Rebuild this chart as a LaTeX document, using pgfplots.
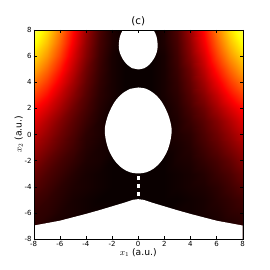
\documentclass[border=0pt]{standalone}
\usepackage{fontspec}
\setmainfont{DejaVu Sans}
\usepackage{pgfplots}
\pgfplotsset{compat=1.18}
\begin{document}
\begin{tikzpicture}[x=1pt,y=1pt]
\path (0,0) rectangle (270,270);
\begin{axis}[
  at={(33.7pt,31pt)},anchor=south west,
  scale only axis,width=209pt,height=209pt,
  xmin=-8,xmax=8,ymin=-8,ymax=8,
  xtick={-8,-6,...,8},ytick={-8,-6,...,8},
  tick align=inside,major tick length=2.8pt,
  tick style={black,line width=0.35pt},
  axis line style={line width=0.35pt},
  axis on top,
  /pgf/number format/assume math mode=true,
  tick label style={font=\fontsize{7}{8}\selectfont},
  xticklabel style={yshift=1.5pt},
  yticklabel style={xshift=1.5pt},
  xlabel={$x_1$ (a.u.)},ylabel={$x_2$ (a.u.)},
  label style={font=\fontsize{9.2}{10}\selectfont},
  xlabel style={yshift=4.5pt},
  ylabel style={yshift=-5pt},
  title={(c)},title style={font=\fontsize{10.3}{11}\selectfont,yshift=-5pt},
  colormap={mhot}{rgb(0pt)=(0.04,0,0); rgb(365pt)=(1,0,0); rgb(746pt)=(1,1,0); rgb(1000pt)=(1,1,1)},
  point meta min=0,point meta max=1,
]
\addplot[surf,shader=interp,mesh/rows=17,mesh/cols=17,point meta=explicit] coordinates {
(-8,8)[.82] (-7,8)[.70] (-6,8)[.55] (-5,8)[.38] (-4,8)[.22] (-3,8)[.10] (-2,8)[.03] (-1,8)[0] (0,8)[0] (1,8)[0] (2,8)[.03] (3,8)[.10] (4,8)[.22] (5,8)[.38] (6,8)[.55] (7,8)[.70] (8,8)[.82]
(-8,7)[.76] (-7,7)[.65] (-6,7)[.51] (-5,7)[.35] (-4,7)[.20] (-3,7)[.09] (-2,7)[.03] (-1,7)[0] (0,7)[0] (1,7)[0] (2,7)[.03] (3,7)[.09] (4,7)[.20] (5,7)[.35] (6,7)[.51] (7,7)[.65] (8,7)[.76]
(-8,6)[.69] (-7,6)[.59] (-6,6)[.46] (-5,6)[.31] (-4,6)[.18] (-3,6)[.08] (-2,6)[.02] (-1,6)[0] (0,6)[0] (1,6)[0] (2,6)[.02] (3,6)[.08] (4,6)[.18] (5,6)[.31] (6,6)[.46] (7,6)[.59] (8,6)[.69]
(-8,5)[.62] (-7,5)[.52] (-6,5)[.40] (-5,5)[.27] (-4,5)[.15] (-3,5)[.07] (-2,5)[.02] (-1,5)[0] (0,5)[0] (1,5)[0] (2,5)[.02] (3,5)[.07] (4,5)[.15] (5,5)[.27] (6,5)[.40] (7,5)[.52] (8,5)[.62]
(-8,4)[.54] (-7,4)[.45] (-6,4)[.34] (-5,4)[.23] (-4,4)[.13] (-3,4)[.06] (-2,4)[.02] (-1,4)[0] (0,4)[0] (1,4)[0] (2,4)[.02] (3,4)[.06] (4,4)[.13] (5,4)[.23] (6,4)[.34] (7,4)[.45] (8,4)[.54]
(-8,3)[.46] (-7,3)[.38] (-6,3)[.28] (-5,3)[.19] (-4,3)[.11] (-3,3)[.05] (-2,3)[.02] (-1,3)[0] (0,3)[0] (1,3)[0] (2,3)[.02] (3,3)[.05] (4,3)[.11] (5,3)[.19] (6,3)[.28] (7,3)[.38] (8,3)[.46]
(-8,2)[.38] (-7,2)[.31] (-6,2)[.23] (-5,2)[.15] (-4,2)[.09] (-3,2)[.04] (-2,2)[.01] (-1,2)[0] (0,2)[0] (1,2)[0] (2,2)[.01] (3,2)[.04] (4,2)[.09] (5,2)[.15] (6,2)[.23] (7,2)[.31] (8,2)[.38]
(-8,1)[.32] (-7,1)[.25] (-6,1)[.18] (-5,1)[.12] (-4,1)[.07] (-3,1)[.03] (-2,1)[.01] (-1,1)[0] (0,1)[0] (1,1)[0] (2,1)[.01] (3,1)[.03] (4,1)[.07] (5,1)[.12] (6,1)[.18] (7,1)[.25] (8,1)[.32]
(-8,0)[.27] (-7,0)[.21] (-6,0)[.15] (-5,0)[.10] (-4,0)[.05] (-3,0)[.03] (-2,0)[.01] (-1,0)[0] (0,0)[0] (1,0)[0] (2,0)[.01] (3,0)[.03] (4,0)[.05] (5,0)[.10] (6,0)[.15] (7,0)[.21] (8,0)[.27]
(-8,-1)[.22] (-7,-1)[.17] (-6,-1)[.12] (-5,-1)[.08] (-4,-1)[.04] (-3,-1)[.02] (-2,-1)[.01] (-1,-1)[0] (0,-1)[0] (1,-1)[0] (2,-1)[.01] (3,-1)[.02] (4,-1)[.04] (5,-1)[.08] (6,-1)[.12] (7,-1)[.17] (8,-1)[.22]
(-8,-2)[.18] (-7,-2)[.13] (-6,-2)[.09] (-5,-2)[.06] (-4,-2)[.03] (-3,-2)[.02] (-2,-2)[0] (-1,-2)[0] (0,-2)[0] (1,-2)[0] (2,-2)[0] (3,-2)[.02] (4,-2)[.03] (5,-2)[.06] (6,-2)[.09] (7,-2)[.13] (8,-2)[.18]
(-8,-3)[.14] (-7,-3)[.10] (-6,-3)[.07] (-5,-3)[.04] (-4,-3)[.02] (-3,-3)[.01] (-2,-3)[0] (-1,-3)[0] (0,-3)[0] (1,-3)[0] (2,-3)[0] (3,-3)[.01] (4,-3)[.02] (5,-3)[.04] (6,-3)[.07] (7,-3)[.10] (8,-3)[.14]
(-8,-4)[.11] (-7,-4)[.08] (-6,-4)[.05] (-5,-4)[.03] (-4,-4)[.02] (-3,-4)[.01] (-2,-4)[0] (-1,-4)[0] (0,-4)[0] (1,-4)[0] (2,-4)[0] (3,-4)[.01] (4,-4)[.02] (5,-4)[.03] (6,-4)[.05] (7,-4)[.08] (8,-4)[.11]
(-8,-5)[.08] (-7,-5)[.06] (-6,-5)[.04] (-5,-5)[.02] (-4,-5)[.01] (-3,-5)[0] (-2,-5)[0] (-1,-5)[0] (0,-5)[0] (1,-5)[0] (2,-5)[0] (3,-5)[0] (4,-5)[.01] (5,-5)[.02] (6,-5)[.04] (7,-5)[.06] (8,-5)[.08]
(-8,-6)[.06] (-7,-6)[.05] (-6,-6)[.03] (-5,-6)[.02] (-4,-6)[.01] (-3,-6)[.01] (-2,-6)[0] (-1,-6)[0] (0,-6)[0] (1,-6)[0] (2,-6)[0] (3,-6)[.01] (4,-6)[.01] (5,-6)[.02] (6,-6)[.03] (7,-6)[.05] (8,-6)[.06]
(-8,-7)[.05] (-7,-7)[.03] (-6,-7)[.02] (-5,-7)[.01] (-4,-7)[0] (-3,-7)[0] (-2,-7)[0] (-1,-7)[0] (0,-7)[0] (1,-7)[0] (2,-7)[0] (3,-7)[0] (4,-7)[0] (5,-7)[.01] (6,-7)[.02] (7,-7)[.03] (8,-7)[.05]
(-8,-8)[.05] (-7,-8)[.03] (-6,-8)[.02] (-5,-8)[.01] (-4,-8)[0] (-3,-8)[0] (-2,-8)[0] (-1,-8)[0] (0,-8)[0] (1,-8)[0] (2,-8)[0] (3,-8)[0] (4,-8)[0] (5,-8)[.01] (6,-8)[.02] (7,-8)[.03] (8,-8)[.05]
};
% white regions
\addplot[fill=white,draw=none,smooth,tension=.55] coordinates {
(0,4.98) (.45,5.07) (.85,5.35) (1.2,5.8) (1.42,6.3) (1.49,6.8) (1.4,7.5) (1.17,8) (.8,8.5) (0,8.7) (-.8,8.5) (-1.17,8) (-1.4,7.5) (-1.49,6.8) (-1.42,6.3) (-1.2,5.8) (-.85,5.35) (-.45,5.07)
} --cycle;
\addplot[fill=white,draw=none,smooth,tension=.55] coordinates {
(0,3.6) (.6,3.5) (1.2,3.15) (1.8,2.5) (2.3,1.5) (2.55,.5) (2.5,-.3) (2.25,-1.2) (1.8,-2) (1.2,-2.6) (.6,-2.9) (0,-2.98) (-.6,-2.9) (-1.2,-2.6) (-1.8,-2) (-2.25,-1.2) (-2.5,-.3) (-2.55,.5) (-2.3,1.5) (-1.8,2.5) (-1.2,3.15) (-.6,3.5)
} --cycle;
\addplot[fill=white,draw=none] coordinates {
(-8,-8) (-8,-6.97) (-6,-6.6) (-4,-6.08) (-3,-5.8) (-2,-5.5) (-1,-5.2) (-.4,-5.0) (0,-4.95) (.4,-5.0) (1,-5.2) (2,-5.5) (3,-5.8) (4,-6.08) (6,-6.6) (8,-6.97) (8,-8)
} --cycle;
\addplot[fill=white,draw=none] coordinates {(-.1,-3.5) (.1,-3.5) (.1,-3.2) (-.1,-3.2)} --cycle;
\addplot[fill=white,draw=none] coordinates {(-.1,-4.1) (.1,-4.1) (.1,-3.8) (-.1,-3.8)} --cycle;
\addplot[fill=white,draw=none] coordinates {(-.1,-4.7) (.1,-4.7) (.1,-4.4) (-.1,-4.4)} --cycle;
\end{axis}
\end{tikzpicture}
\end{document}
